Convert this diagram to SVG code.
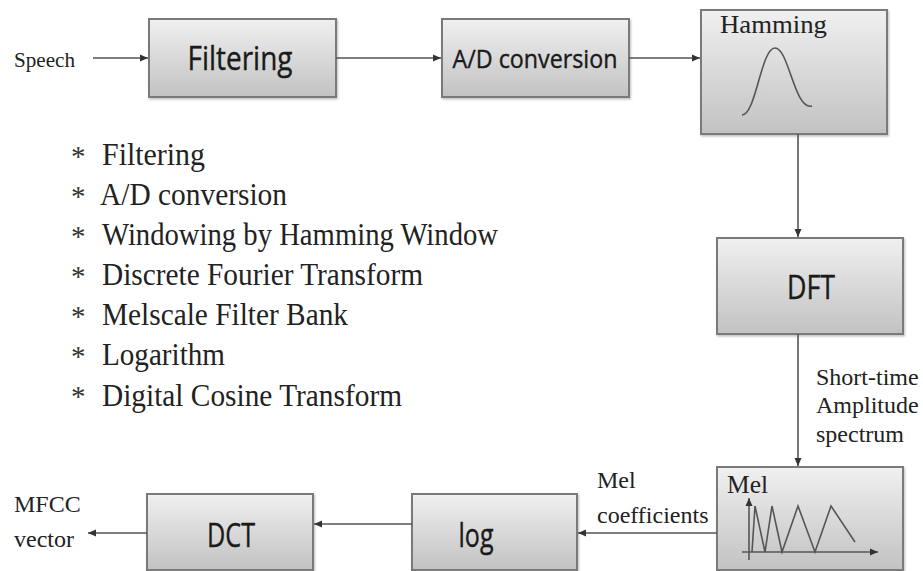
<svg xmlns="http://www.w3.org/2000/svg" width="923" height="571" viewBox="0 0 923 571">
<defs>
<linearGradient id="g" x1="0" y1="0" x2="0" y2="1">
<stop offset="0" stop-color="#f0f0f0"/>
<stop offset="1" stop-color="#c2c2c2"/>
</linearGradient>
<filter id="sh" x="-5%" y="-5%" width="115%" height="120%">
<feDropShadow dx="1" dy="1.5" stdDeviation="1.2" flood-color="#000" flood-opacity="0.25"/>
</filter>
<marker id="ah" markerUnits="userSpaceOnUse" markerWidth="9" markerHeight="8" refX="8" refY="4" orient="auto">
<path d="M0,0.5 L8,4 L0,7.5 z" fill="#333"/>
</marker>
</defs>
<style>
.box{fill:url(#g);stroke:#7a7a7a;stroke-width:2;filter:url(#sh)}
.bt{font-family:"Open Sans","Liberation Sans",sans-serif;fill:#1a1a1a;text-anchor:middle;stroke:#1a1a1a;stroke-width:0.4}
.sr{font-family:"Liberation Serif","Times New Roman",serif;fill:#222}
.ln{stroke:#555;stroke-width:1.6;fill:none;marker-end:url(#ah)}
.li{font-family:"Liberation Serif","Times New Roman",serif;fill:#222;font-size:31px}
.st{font-family:"Liberation Serif",serif;fill:#333;font-size:29px}
</style>
<rect width="923" height="571" fill="#fff"/>
<text class="sr" x="14" y="67" font-size="21" textLength="61" lengthAdjust="spacingAndGlyphs">Speech</text>
<g id="filtering">
<rect class="box" x="149" y="19" width="187" height="78"/>
<text class="bt" x="240" y="70" font-size="33" textLength="105" lengthAdjust="spacingAndGlyphs">Filtering</text>
</g>
<g id="ad">
<rect class="box" x="442" y="19" width="187" height="78"/>
<text class="bt" x="535" y="68" font-size="26" textLength="165" lengthAdjust="spacingAndGlyphs">A/D conversion</text>
</g>
<g id="hamming">
<rect class="box" x="701" y="10" width="186" height="124"/>
<text class="sr" x="720" y="33" font-size="26" textLength="107" lengthAdjust="spacingAndGlyphs">Hamming</text>
<path d="M742,115 C756,115 761,48 775,48 C789,48 794,110 812,106" fill="none" stroke="#555" stroke-width="1.6"/>
</g>
<g id="dft">
<rect class="box" x="717" y="238" width="186" height="96"/>
<text class="bt" x="811" y="299" font-size="33" textLength="48" lengthAdjust="spacingAndGlyphs">DFT</text>
</g>
<g id="mel">
<rect class="box" x="717" y="467" width="186" height="103"/>
<text class="sr" x="727" y="493" font-size="25" textLength="41" lengthAdjust="spacingAndGlyphs">Mel</text>
<line x1="749" y1="560" x2="749" y2="498" class="ln"/>
<line x1="742" y1="552" x2="878" y2="552" class="ln"/>
<path d="M752,552 L755,506 L765,552 L772,506 L782,552 L798,506 L815,552 L831,506 L855,542" fill="none" stroke="#555" stroke-width="1.6"/>
</g>
<g id="log">
<rect class="box" x="412" y="494" width="165" height="76"/>
<text class="bt" x="476" y="547" font-size="33" textLength="35" lengthAdjust="spacingAndGlyphs">log</text>
</g>
<g id="dct">
<rect class="box" x="147" y="494" width="166" height="76"/>
<text class="bt" x="231" y="547" font-size="33" textLength="48" lengthAdjust="spacingAndGlyphs">DCT</text>
</g>
<g id="connectors">
<line class="ln" x1="93" y1="58" x2="148" y2="58"/>
<line class="ln" x1="336" y1="58" x2="441" y2="58"/>
<line class="ln" x1="629" y1="58" x2="700" y2="58"/>
<line class="ln" x1="798" y1="134" x2="798" y2="237"/>
<line class="ln" x1="798" y1="334" x2="798" y2="466"/>
<line class="ln" x1="717" y1="533" x2="578" y2="533"/>
<line class="ln" x1="412" y1="524" x2="314" y2="524"/>
<line class="ln" x1="147" y1="533" x2="88" y2="533"/>
</g>
<g id="labels" class="sr">
<text x="816" y="385" font-size="24">Short-time</text>
<text x="816" y="413" font-size="24">Amplitude</text>
<text x="816" y="442" font-size="24">spectrum</text>
<text x="597" y="488" font-size="24">Mel</text>
<text x="597" y="523" font-size="24">coefficients</text>
<text x="14" y="512" font-size="24">MFCC</text>
<text x="14" y="547" font-size="24">vector</text>
</g>
<g id="list">
<text class="st" x="71" y="166">*</text>
<text class="st" x="71" y="206">*</text>
<text class="st" x="71" y="246">*</text>
<text class="st" x="71" y="286">*</text>
<text class="st" x="71" y="326">*</text>
<text class="st" x="71" y="366">*</text>
<text class="st" x="71" y="406">*</text>
<text class="li" x="102" y="165" textLength="103" lengthAdjust="spacingAndGlyphs">Filtering</text>
<text class="li" x="100" y="205" textLength="187" lengthAdjust="spacingAndGlyphs">A/D conversion</text>
<text class="li" x="102" y="245" textLength="396" lengthAdjust="spacingAndGlyphs">Windowing by Hamming Window</text>
<text class="li" x="102" y="285" textLength="321" lengthAdjust="spacingAndGlyphs">Discrete Fourier Transform</text>
<text class="li" x="102" y="325" textLength="246" lengthAdjust="spacingAndGlyphs">Melscale Filter Bank</text>
<text class="li" x="102" y="365" textLength="123" lengthAdjust="spacingAndGlyphs">Logarithm</text>
<text class="li" x="102" y="406" textLength="300" lengthAdjust="spacingAndGlyphs">Digital Cosine Transform</text>
</g>
</svg>
